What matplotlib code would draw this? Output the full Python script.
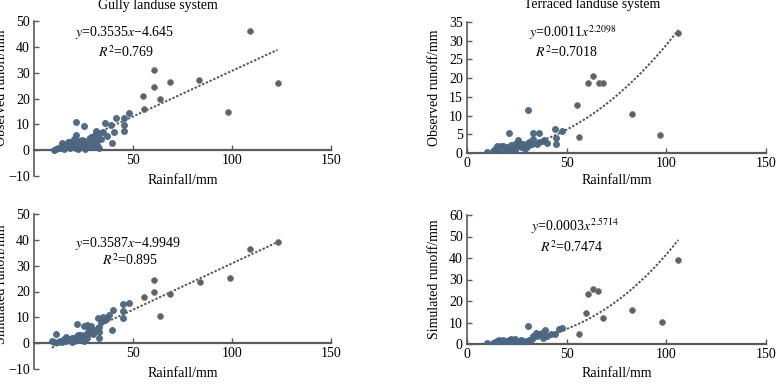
import numpy as np
import matplotlib
matplotlib.use("Agg")
import matplotlib.pyplot as plt

plt.rcParams['font.family'] = ['Liberation Serif', 'DejaVu Serif']
plt.rcParams['mathtext.fontset'] = 'stix'
plt.rcParams['font.size'] = 10

# ---------------- data ----------------
gully_obs_x = [109, 123, 98, 83.5, 68.5, 60.5, 60.5, 63.5, 55, 55.5, 48, 45.5, 41.5, 45.5, 45.5, 39, 40.5,
               37, 39.5, 36, 21, 25.5, 21, 31.5,
               10, 11, 12, 13, 14, 15, 16, 17, 18, 18, 19, 20, 20, 21, 22, 23, 24, 24, 25, 26, 27, 28,
               29, 30, 31, 32, 32, 33, 33, 34, 35, 30, 26, 22, 17, 14]
gully_obs_y = [46, 26, 14.6, 27, 26.5, 31, 24.5, 20, 21, 16, 14.3, 12.6, 12.6, 9.6, 7.3, 9.6, 7,
               5.4, 2.7, 10.4, 10.8, 9.3, 6, 7.3,
               0.2, 0.5, 0.8, 1.0, 1.5, 0.6, 2.0, 1.2, 3.0, 0.8, 1.8, 2.5, 4.5, 1.0, 3.5, 2.0, 1.2, 4.0, 2.8, 1.5, 3.5, 2.0,
               5.0, 3.0, 6.0, 4.0, 2.0, 1.0, 6.5, 4.5, 7.0, 1.2, 0.5, 0.6, 3.0, 2.8]

gully_sim_x = [123, 109, 99, 84, 68.5, 63.5, 60.5, 60.5, 55.5, 48, 45, 44.7, 44.7, 40, 39.5, 37, 32.3,
               32.8, 32.8, 32.8, 27.6, 21.5, 11.2,
               9, 10, 12, 13, 14, 15, 16, 17, 18, 19, 20, 21, 22, 23, 24, 25, 26, 27, 28, 29, 30, 31,
               34, 35, 36, 38, 25, 27, 22, 19, 16]
gully_sim_y = [39, 36.3, 25.1, 23.5, 18.9, 10.6, 24.6, 20, 18, 15.7, 15, 12.3, 9.6, 12.8, 5, 9.6, 9.6,
               6.2, 4.2, 1.9, 5.5, 7.5, 3.7,
               1.0, 0.3, 0.6, 1.0, 0.5, 1.5, 0.8, 1.8, 1.2, 2.0, 1.0, 2.2, 1.5, 3.0, 2.5, 1.0, 3.2, 2.0, 4.0, 6.5, 3.5, 5.0,
               8.0, 10.0, 9.0, 11.0, 6.5, 7.0, 3.0, 0.6, 2.2]

terr_obs_x = [106, 97, 83, 63, 60.5, 66, 68, 55, 56, 30.8, 44.2, 47.6, 21.3, 33.3, 36.2, 44.6, 44.6, 38.7,
              40, 33, 32.5, 30.5, 25.8, 24, 10,
              13, 14, 15, 16, 17, 18, 18, 19, 20, 21, 22, 23, 24, 25, 26, 27, 28, 29, 30, 31, 35, 36, 38,
              15, 20, 17]
terr_obs_y = [32, 4.7, 10.3, 20.6, 18.8, 18.7, 18.7, 12.8, 4.2, 11.5, 6.3, 5.9, 5.4, 5.3, 5.3, 3.9, 2.4, 3.5,
              2.8, 3.7, 2.4, 1.9, 3.5, 2.4, 0.3,
              0.5, 1.0, 1.8, 0.6, 1.2, 2.0, 0.4, 1.0, 1.5, 0.7, 2.2, 1.0, 0.5, 1.8, 2.8, 1.5, 2.5, 1.0, 2.5, 3.0, 2.5, 3.0, 3.2,
              0.2, 0.2, 2.0]

terr_sim_x = [106, 83, 98, 68, 60.6, 63.2, 65.7, 59.6, 56, 47.6, 46, 44.2, 30.5, 39.2, 37.8, 34.7, 33.3,
              32.5, 40, 42, 10,
              13, 14, 15, 16, 17, 18, 19, 20, 21, 22, 23, 24, 25, 26, 27, 28, 29, 30, 31, 35, 36, 38, 16, 22]
terr_sim_y = [39.2, 15.8, 10.1, 12.1, 23.3, 25.6, 24.5, 14.4, 4.8, 7.4, 7, 4.8, 8.2, 6.7, 5.1, 5.1, 3.6,
              2.3, 3.5, 4.5, 0.3,
              0.3, 0.8, 1.5, 0.5, 1.0, 1.8, 0.7, 1.2, 2.0, 0.8, 1.5, 2.2, 1.0, 0.6, 1.8, 1.2, 0.8, 1.5, 2.0, 3.5, 4.5, 3.0, 1.8, 2.4]

titles = ["Gully landuse system", "Terraced landuse system"]
ylabels = ["Observed runoff/mm", "Observed runoff/mm", "Simulated runoff/mm", "Simulated runoff/mm"]
xlabel = "Rainfall/mm"

fig = plt.figure(figsize=(7.81, 3.86), dpi=100)

W, H = 781.0, 386.0
def axes_px(l, r, t, b):
    return fig.add_axes([l / W, 1 - b / H, (r - l) / W, (b - t) / H])

ax_tl = axes_px(34, 331, 21, 176)
ax_tr = axes_px(467, 766, 22, 153)
ax_bl = axes_px(34, 331, 214, 369)
ax_br = axes_px(467, 766, 215, 344)

spine_c = '#5a5a5a'

def style(ax, ylim, yticks, xticks, xticklabels, crossing):
    ax.set_xlim(0, 150)
    ax.set_ylim(*ylim)
    ax.set_yticks(yticks)
    ax.set_xticks(xticks)
    ax.set_xticklabels(xticklabels)
    for s in ['top', 'right']:
        ax.spines[s].set_visible(False)
    for s in ['left', 'bottom']:
        ax.spines[s].set_color(spine_c)
        ax.spines[s].set_linewidth(1.2)
    ax.spines['bottom'].set_linewidth(1.6)
    if crossing:
        ax.spines['bottom'].set_position(('data', 0))
    ax.tick_params(direction='in', length=3.5, width=1.0, color=spine_c, labelsize=10, pad=3)
    ax.patch.set_alpha(0)

def scatter(ax, xs, ys):
    xs = np.asarray(xs); ys = np.asarray(ys)
    small = xs < 50
    ax.scatter(xs[~small], ys[~small], s=18, c='#5f6166', edgecolors='#7a7c80', linewidths=0.5, zorder=3)
    ax.scatter(xs[small], ys[small], s=18, c='#56626e', edgecolors='#3f6a96', linewidths=0.7, zorder=3, alpha=0.95)

def trend_lin(ax, xs, a, b):
    xx = np.linspace(min(xs), max(xs), 100)
    ax.plot(xx, a * xx + b, color='#555555', lw=1.4, ls=(0, (1.2, 0.9)), zorder=2)

def trend_pow(ax, xs, a, b):
    xx = np.linspace(min(xs), max(xs), 100)
    ax.plot(xx, a * xx ** b, color='#555555', lw=1.4, ls=(0, (1.2, 0.9)), zorder=2)

# TL
style(ax_tl, (-10, 50), [-10, 0, 10, 20, 30, 40, 50], [50, 100, 150], ['50', '100', '150'], True)
scatter(ax_tl, gully_obs_x, gully_obs_y)
trend_lin(ax_tl, gully_obs_x, 0.3535, -4.645)
ax_tl.text(0.305, 0.923, r'$y$=0.3535$x$−4.645', transform=ax_tl.transAxes, ha='center', va='center', fontsize=10)
ax_tl.text(0.31, 0.80, r'$R^{2}$=0.769', transform=ax_tl.transAxes, ha='center', va='center', fontsize=10)

# TR
style(ax_tr, (0, 35), [0, 5, 10, 15, 20, 25, 30, 35], [0, 50, 100, 150], ['0', '50', '100', '150'], False)
scatter(ax_tr, terr_obs_x, terr_obs_y)
trend_pow(ax_tr, terr_obs_x, 0.0011, 2.2098)
ax_tr.text(0.355, 0.916, r'$y$=0.0011$x^{2.2098}$', transform=ax_tr.transAxes, ha='center', va='center', fontsize=10)
ax_tr.text(0.334, 0.77, r'$R^{2}$=0.7018', transform=ax_tr.transAxes, ha='center', va='center', fontsize=10)

# BL
style(ax_bl, (-10, 50), [-10, 0, 10, 20, 30, 40, 50], [50, 100, 150], ['50', '100', '150'], True)
scatter(ax_bl, gully_sim_x, gully_sim_y)
trend_lin(ax_bl, gully_sim_x, 0.3587, -4.9949)
ax_bl.text(0.316, 0.812, r'$y$=0.3587$x$−4.9949', transform=ax_bl.transAxes, ha='center', va='center', fontsize=10)
ax_bl.text(0.323, 0.70, r'$R^{2}$=0.895', transform=ax_bl.transAxes, ha='center', va='center', fontsize=10)

# BR
style(ax_br, (0, 60), [0, 10, 20, 30, 40, 50, 60], [0, 50, 100, 150], ['0', '50', '100', '150'], False)
scatter(ax_br, terr_sim_x, terr_sim_y)
trend_pow(ax_br, terr_sim_x, 0.0003, 2.5714)
ax_br.text(0.36, 0.915, r'$y$=0.0003$x^{2.5714}$', transform=ax_br.transAxes, ha='center', va='center', fontsize=10)
ax_br.text(0.35, 0.75, r'$R^{2}$=0.7474', transform=ax_br.transAxes, ha='center', va='center', fontsize=10)

# labels
for ax, yl in zip([ax_tl, ax_tr, ax_bl, ax_br], ylabels):
    ax.set_ylabel(yl, fontsize=10)
    ax.set_xlabel(xlabel, fontsize=10)
ax_tl.yaxis.set_label_coords(-0.087, 0.57)
ax_bl.yaxis.set_label_coords(-0.087, 0.55)
ax_tr.yaxis.set_label_coords(-0.087, 0.5)
ax_br.yaxis.set_label_coords(-0.087, 0.5)
ax_tl.xaxis.set_label_coords(0.5, 0.013)
ax_bl.xaxis.set_label_coords(0.5, 0.013)
ax_tr.xaxis.set_label_coords(0.5, -0.16)
ax_br.xaxis.set_label_coords(0.5, -0.178)

ax_tl.text(0.418, 1.103, titles[0], transform=ax_tl.transAxes, ha='center', va='center', fontsize=10)
ax_tr.text(0.42, 1.13, titles[1], transform=ax_tr.transAxes, ha='center', va='center', fontsize=10)

fig.savefig('out.png', dpi=100)
